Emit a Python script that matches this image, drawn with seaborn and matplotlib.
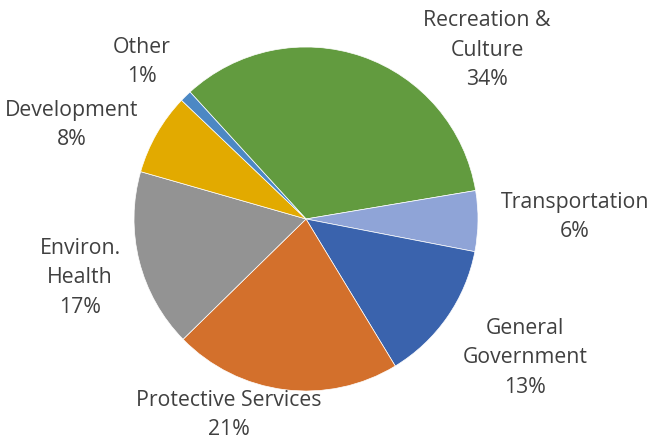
import matplotlib
matplotlib.use("Agg")
import matplotlib.pyplot as plt
import seaborn as sns

# Spending share by function (percent of total)
categories = ["Recreation &\nCulture", "Transportation", "General\nGovernment",
              "Protective Services", "Environ.\nHealth", "Development", "Other"]
shares = [34.2, 5.7, 13.3, 21.4, 16.8, 7.7, 1.1]
colors = ["#629B3F", "#8FA4D7", "#3A63AD", "#D3702C", "#939393", "#E2AA00", "#4C88C4"]

# label anchor points in pixels (x, y from top-left)
label_px = [(487, 50), (575, 217), (525, 358), (229, 415), (80, 278), (72, 125), (142, 62)]

sns.set_theme(style="white")
plt.rcParams["font.family"] = ["Open Sans", "DejaVu Sans"]

W, H = 649, 439
cx, cy, R = 306, 220, 172

fig = plt.figure(figsize=(W / 100, H / 100), dpi=100)
ax = fig.add_axes([0, 0, 1, 1])
ax.pie(shares, colors=colors, startangle=132.4, counterclock=False,
       radius=1.0, center=(0, 0),
       wedgeprops=dict(edgecolor="white", linewidth=0.5))
ax.set_xlim(-cx / R, (W - cx) / R)
ax.set_ylim(-(H - cy) / R, cy / R)
ax.set_aspect("auto")
ax.axis("off")

total = sum(shares)
for name, val, (px, py) in zip(categories, shares, label_px):
    x = (px - cx) / R
    y = (cy - py) / R
    ax.text(x, y, f"{name}\n{round(100 * val / total)}%", ha="center", va="center",
            fontsize=15.3, color="#404040", linespacing=1.52)

fig.savefig("out.png", dpi=100)
